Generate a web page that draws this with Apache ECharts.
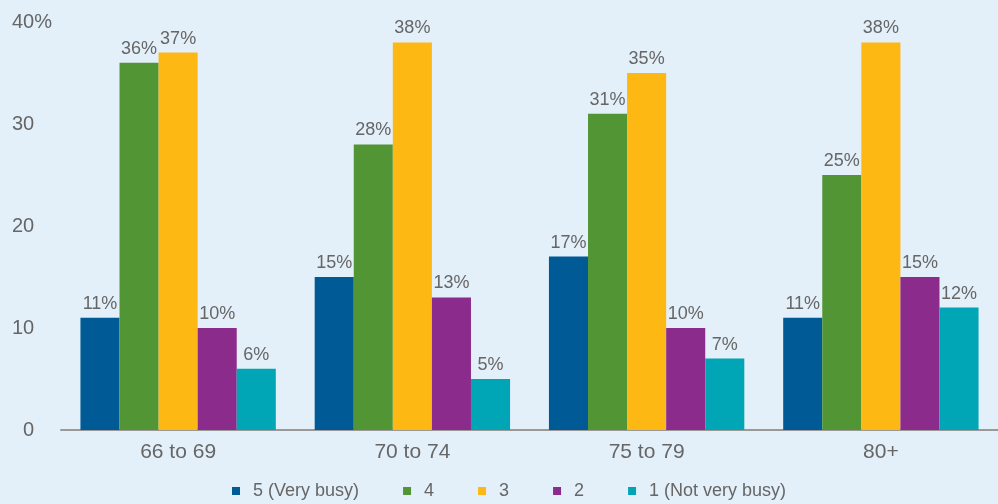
<!DOCTYPE html>
<html>
<head>
<meta charset="utf-8">
<script src="https://cdn.jsdelivr.net/npm/echarts@6/dist/echarts.min.js"></script>
<style>
html,body{margin:0;padding:0;background:#e3eff9;}
#c{width:998px;height:504px;}
</style>
</head>
<body>
<div id="c"></div>
<script>
const categories = ['66 to 69', '70 to 74', '75 to 79', '80+'];
const seriesNames = ['5 (Very busy)', '4', '3', '2', '1 (Not very busy)'];
const s5 = [11, 15, 17, 11];
const s4 = [36, 28, 31, 25];
const s3 = [37, 38, 35, 38];
const s2 = [10, 13, 10, 15];
const s1 = [6, 5, 7, 12];
const yTicks = [0, 10, 20, 30, 40];

const colors = ['#005a96', '#529535', '#fdb813', '#8b2b8b', '#00a6b6'];
const values = [s5, s4, s3, s2, s1];
const FONT = '"Liberation Sans", Arial, sans-serif';
const TXT = '#666666';

const chart = echarts.init(document.getElementById('c'), null, {renderer: 'canvas'});
chart.setOption({
  backgroundColor: '#e3eff9',
  animation: false,
  textStyle: {fontFamily: FONT},
  grid: {left: 61, width: 940, top: 22, bottom: 74, containLabel: false},
  legend: {
    top: 482,
    left: 232,
    padding: 0,
    itemWidth: 8,
    itemHeight: 8,
    itemGap: 44,
    icon: 'rect',
    data: seriesNames,
    textStyle: {color: TXT, fontSize: 18, fontFamily: FONT, padding: [0, 0, 0, 8]}
  },
  xAxis: {
    type: 'category',
    data: categories,
    axisLine: {show: true, lineStyle: {color: '#999999', width: 2}},
    axisTick: {show: false},
    axisLabel: {color: TXT, fontSize: 21, margin: 12, fontFamily: FONT}
  },
  yAxis: {
    type: 'value',
    min: yTicks[0],
    max: yTicks[yTicks.length - 1],
    interval: 10,
    splitLine: {show: false},
    axisLine: {show: false},
    axisTick: {show: false},
    axisLabel: {
      color: TXT, fontSize: 20, align: 'left', margin: 49, fontFamily: FONT,
      formatter: function (v) {
        if (v === 0) return '{z|0}';
        if (v === 40) return '40%';
        return String(v);
      },
      rich: {z: {color: TXT, fontSize: 20, fontFamily: FONT, padding: [0, 0, 0, 11]}}
    }
  },
  series: seriesNames.map(function (name, i) {
    return {
      name: name,
      type: 'bar',
      data: values[i],
      barGap: '0%',
      barCategoryGap: '16.6%',
      itemStyle: {color: colors[i]},
      label: {
        show: true,
        position: 'top',
        distance: 5,
        color: TXT,
        fontSize: 18,
        fontFamily: FONT,
        formatter: '{c}%'
      }
    };
  })
});
</script>
</body>
</html>
